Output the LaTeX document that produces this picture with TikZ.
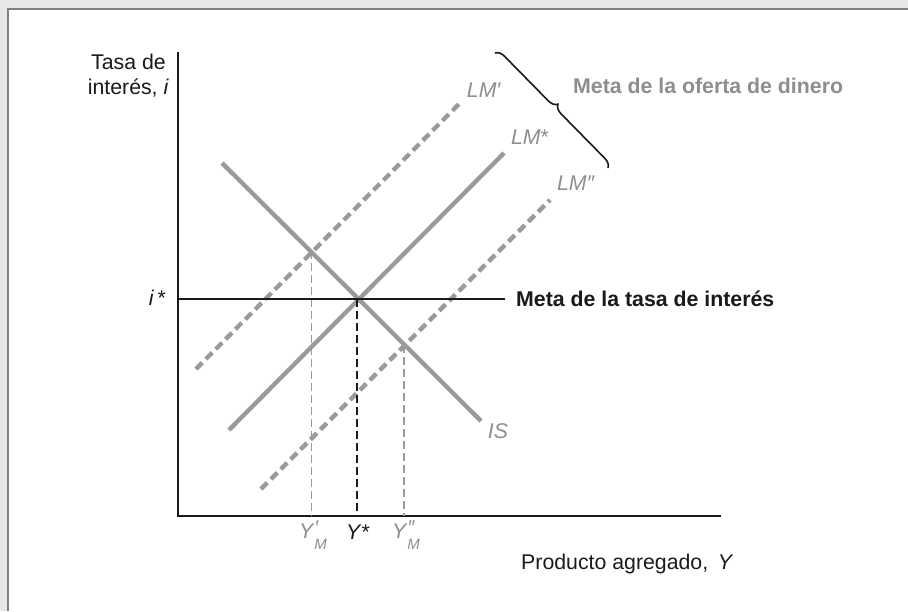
\documentclass[tikz,border=0pt]{standalone}
\usepackage{fontspec}
\setmainfont{Liberation Sans}
\usetikzlibrary{decorations.pathreplacing}
\definecolor{lgray}{HTML}{9A9A9A}
\definecolor{tgray}{HTML}{8E8E8E}
\definecolor{bggray}{HTML}{E6E7E8}
\definecolor{framegray}{HTML}{7F7F7F}
\definecolor{ink}{HTML}{1A1A1A}
\newcommand{\subfnt}{\fontsize{15}{15}\selectfont}
\newcommand{\primefnt}{\fontsize{20}{20}\selectfont}
\tikzset{
  txt/.style={inner sep=0pt, font=\fontsize{21.3}{26}\selectfont, text=ink},
  gtxt/.style={txt, text=tgray},
  axisline/.style={draw=ink, line width=1.4pt},
  curve/.style={draw=lgray, line width=4.3pt},
  dcurve/.style={curve, dash pattern=on 9pt off 5pt},
  guide/.style={draw=lgray, line width=1.1pt, dash pattern=on 8pt off 4pt},
  kguide/.style={draw=ink, line width=1.1pt, dash pattern=on 8pt off 4pt},
}
\begin{document}
\begin{tikzpicture}[x=1pt,y=-1pt]
\useasboundingbox (0,0) rectangle (908,611);
\fill[bggray] (0,0) rectangle (908,611);
\fill[white] (8,9) rectangle (908,611);
\draw[framegray, line width=2pt] (8,611) -- (8,9) -- (908,9);

% axes
\coordinate (O) at (178,516);
\coordinate (Ytop) at (178,52);
\coordinate (Xend) at (721,516);
\draw[axisline] (Ytop) -- (O) -- (Xend);

% curves
\coordinate (IS1) at (222,163);
\coordinate (IS2) at (481,421);
\coordinate (LMs1) at (229,430);
\coordinate (LMs2) at (504,153);
\coordinate (LMp1) at (196,369);
\coordinate (LMp2) at (459,104);
\coordinate (LMpp1) at (261,489);
\coordinate (LMpp2) at (550,200);
\draw[dcurve] (LMp1) -- (LMp2);
\draw[dcurve] (LMpp1) -- (LMpp2);
\draw[curve] (LMs1) -- (LMs2);
\draw[curve] (IS1) -- (IS2);

% guides
\coordinate (A1) at (311.5,251);
\coordinate (A0) at (311.5,516);
\coordinate (B1) at (357,299);
\coordinate (B0) at (357,516);
\coordinate (C1) at (404,345);
\coordinate (C0) at (404,516);
\draw[guide] (A1) -- (A0);
\draw[guide] (C1) -- (C0);
\draw[kguide] (B1) -- (B0);

% interest target
\coordinate (iL) at (178,299);
\coordinate (iR) at (505,299);
\draw[draw=ink, line width=2pt] (iL) -- (iR);
\node[txt, anchor=west, font=\fontsize{21.3}{26}\selectfont\bfseries] (meta) at (516,299) {Meta de la tasa de interés};
\node[txt, anchor=east] (istar) at (166,298) {\textit{i}\,*};

% y axis title
\node[txt, anchor=east] (ya1) at (166,62) {Tasa de};
\node[txt, anchor=east] (ya2) at (169,88) {interés, \textit{i}};

% x axis title
\node[txt, anchor=west] (xa) at (521,564) {Producto agregado,\, \textit{Y}};

% x labels
\node[gtxt] (yp) at (313,535) {\textit{Y}\rlap{\raisebox{0.35ex}{\primefnt\textit{′}}}\raisebox{-1.0ex}{\subfnt\textit{M}}};
\node[txt] (ys) at (358,532) {\textit{Y}*};
\node[gtxt] (ypp) at (406,535) {\textit{Y}\rlap{\raisebox{0.35ex}{\primefnt\textit{″}}}\raisebox{-1.0ex}{\subfnt\textit{M}}};

% curve labels
\node[gtxt] (lLMp) at (484,90) {\textit{LM′}};
\node[gtxt] (lLMs) at (530,137) {\textit{LM}*};
\node[gtxt] (lLMpp) at (576,183) {\textit{LM″}};
\node[gtxt] (lIS) at (498,431) {\textit{IS}};

% brace
\coordinate (br1) at (495,53);
\coordinate (br2) at (608,168);
\draw[ink, line width=1.6pt, decorate, decoration={brace, amplitude=9pt}] (br1) -- (br2);
\node[gtxt, anchor=west, font=\fontsize{21.3}{26}\selectfont\bfseries] (meta2) at (573,86) {Meta de la oferta de dinero};
\end{tikzpicture}
\end{document}
